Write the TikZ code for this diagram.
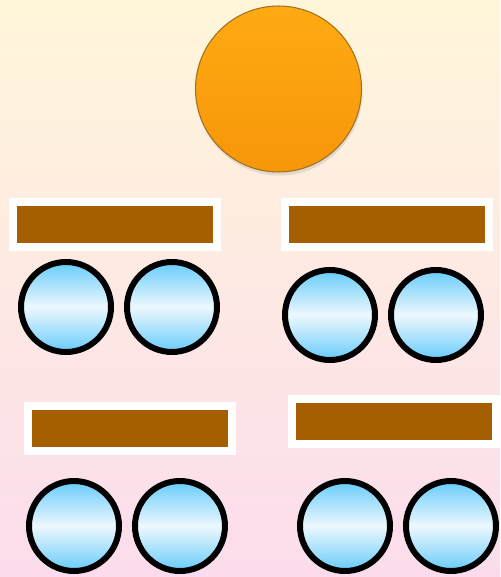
\documentclass[tikz,border=0pt]{standalone}
\usepackage{tikz}
\usetikzlibrary{positioning,shadows}

\definecolor{bgtop}{HTML}{FFF6DA}
\definecolor{bgbot}{HTML}{FCDCEC}
\definecolor{orangetop}{HTML}{FFAA12}
\definecolor{orangebot}{HTML}{F7960A}
\definecolor{orangeedge}{HTML}{A0701E}
\definecolor{barbrown}{HTML}{A65F00}
\definecolor{leafblue}{HTML}{66CBFA}
\definecolor{leafpale}{HTML}{EDF8FE}

\begin{document}
\begin{tikzpicture}[
    x=0.02cm, y=-0.02cm,
    node distance=0.32cm and 0.32cm,
    root/.style={circle, draw=orangeedge, line width=0.6pt, minimum size=3.32cm, inner sep=0pt, top color=orangetop, bottom color=orangebot, drop shadow={shadow xshift=0.5pt, shadow yshift=-2pt, opacity=0.2}},
    bar/.style={rectangle, draw=white, line width=0.16cm, fill=barbrown, minimum width=4.08cm, minimum height=0.9cm, inner sep=0pt, outer sep=0pt, drop shadow={shadow xshift=0.8pt, shadow yshift=-2pt, opacity=0.35}},
    leaf/.style={circle, draw=black, line width=0.12cm, minimum size=1.8cm, inner sep=0pt, outer sep=0pt, top color=leafblue, bottom color=leafblue, middle color=leafpale}
]
% Background
\shade[top color=bgtop, bottom color=bgbot] (0,0) rectangle (500,577);
\useasboundingbox (0,0) rectangle (500,577);

% Top circle
\node[root] (root) at (278.5,89) {};

% Bars
\node[bar] (barA) at (115,224.5) {};
\node[bar] (barB) at (387,224.5) {};
\node[bar] (barC) at (130,428.5) {};
\node[bar] (barD) at (394,421.5) {};

% Circle pairs
\node[leaf] (leafA1) at (66,307) {};
\node[leaf, right=of leafA1] (leafA2) {};
\node[leaf] (leafB1) at (330,315) {};
\node[leaf, right=of leafB1] (leafB2) {};
\node[leaf] (leafC1) at (74,526) {};
\node[leaf, right=of leafC1] (leafC2) {};
\node[leaf] (leafD1) at (345,526) {};
\node[leaf, right=of leafD1] (leafD2) {};

\end{tikzpicture}
\end{document}
